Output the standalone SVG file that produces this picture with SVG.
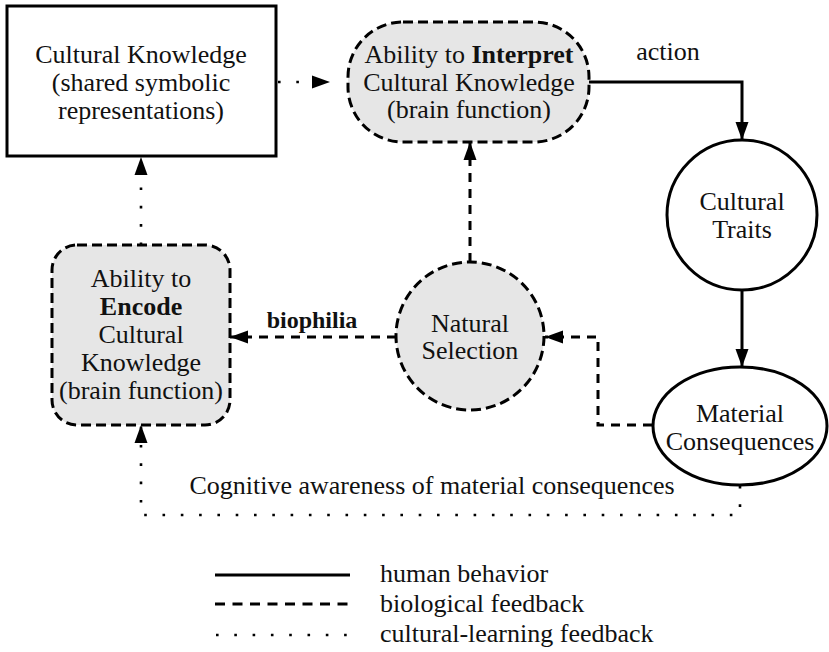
<svg xmlns="http://www.w3.org/2000/svg" width="829" height="652" viewBox="0 0 829 652">
<defs>
<marker id="arr" markerUnits="userSpaceOnUse" markerWidth="18" markerHeight="14" refX="18" refY="7" orient="auto">
<path d="M0,0.5 L18,7 L0,13.5 z" fill="#000"/>
</marker>
<style>
text{font-family:"Liberation Serif","Times New Roman",serif;font-size:26px;fill:#111;text-anchor:middle}
.b{font-weight:bold}
.solid{fill:none;stroke:#000;stroke-width:3}
.dash{fill:none;stroke:#000;stroke-width:3;stroke-dasharray:9 7}
.dot{fill:none;stroke:#000;stroke-width:2.6;stroke-dasharray:2.6 15.7}
.nodeDash{fill:#e6e6e6;stroke:#000;stroke-width:3;stroke-dasharray:10 5}
.nodeSolid{fill:#fff;stroke:#000;stroke-width:3}
</style>
</defs>
<rect width="829" height="652" fill="#fff"/>

<g id="connectors">
<path class="dot" d="M278,82 H330" marker-end="url(#arr)"/>
<path class="solid" d="M589,82 H742 V140" marker-end="url(#arr)"/>
<path class="solid" d="M742,290 V367" marker-end="url(#arr)"/>
<path class="dash" d="M652,425 H598 V337 H545" marker-end="url(#arr)"/>
<path class="dash" d="M470,262 V142" marker-end="url(#arr)"/>
<path class="dash" d="M396,337 H230" marker-end="url(#arr)"/>
<path class="dot" d="M141,245 V157" marker-end="url(#arr)"/>
<path class="dot" d="M740,486 V515 H141 V425" marker-end="url(#arr)"/>
<text x="668" y="60">action</text>
<text class="b" x="312" y="328" font-size="24" style="font-size:24px">biophilia</text>
<text x="432" y="494">Cognitive awareness of material consequences</text>
</g>

<g id="cultural-knowledge">
<rect class="nodeSolid" x="7" y="6" width="269" height="150"/>
<text x="141" y="63">Cultural Knowledge</text>
<text x="141" y="91">(shared symbolic</text>
<text x="141" y="119">representations)</text>
</g>

<g id="interpret">
<rect class="nodeDash" x="348" y="22" width="241" height="120" rx="55" ry="55"/>
<text x="469" y="63">Ability to <tspan class="b">Interpret</tspan></text>
<text x="469" y="91">Cultural Knowledge</text>
<text x="469" y="118">(brain function)</text>
</g>

<g id="cultural-traits">
<circle class="nodeSolid" cx="742" cy="215" r="75"/>
<text x="742" y="210">Cultural</text>
<text x="742" y="238">Traits</text>
</g>

<g id="material-consequences">
<ellipse class="nodeSolid" cx="740" cy="426" rx="87" ry="59"/>
<text x="740" y="422">Material</text>
<text x="740" y="450">Consequences</text>
</g>

<g id="natural-selection">
<circle class="nodeDash" cx="470" cy="336" r="74"/>
<text x="470" y="332">Natural</text>
<text x="470" y="359">Selection</text>
</g>

<g id="encode">
<rect class="nodeDash" x="52" y="245" width="178" height="180" rx="25" ry="25"/>
<text x="141" y="287">Ability to</text>
<text class="b" x="141" y="315">Encode</text>
<text x="141" y="343">Cultural</text>
<text x="141" y="371">Knowledge</text>
<text x="141" y="399">(brain function)</text>
</g>

<g id="legend">
<line class="solid" x1="215" y1="575" x2="350" y2="575"/>
<line class="dash" x1="215" y1="604" x2="350" y2="604" style="stroke-dasharray:10 7.5"/>
<line class="dot" x1="216" y1="635" x2="350" y2="635" style="stroke-dasharray:2.6 15.7"/>
<text x="380" y="582" style="text-anchor:start">human behavior</text>
<text x="380" y="612" style="text-anchor:start">biological feedback</text>
<text x="380" y="642" style="text-anchor:start">cultural-learning feedback</text>
</g>
</svg>
